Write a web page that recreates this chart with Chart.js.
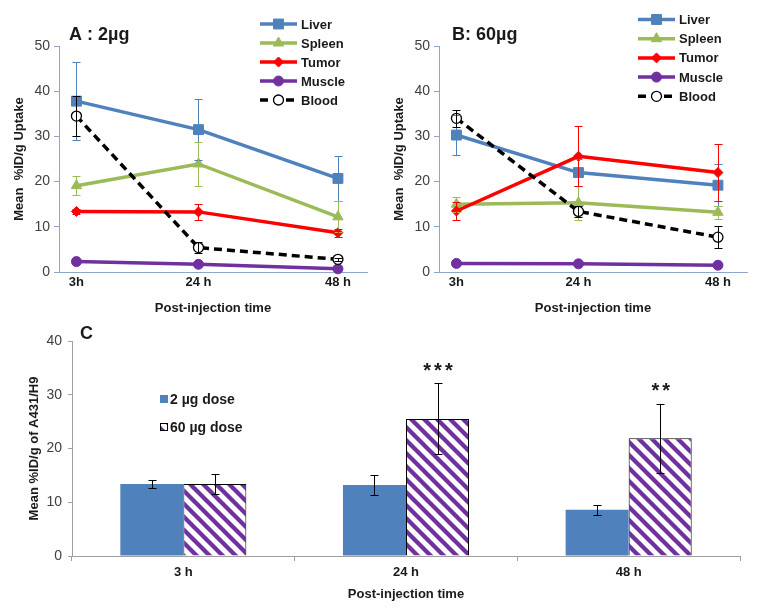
<!DOCTYPE html>
<html><head><meta charset="utf-8">
<script src="https://cdn.jsdelivr.net/npm/chart.js@4"></script>
<style>
html,body{margin:0;padding:0;background:#fff;width:764px;height:611px;overflow:hidden}
canvas{position:absolute}
#cA{left:0;top:0}
#cB{left:380px;top:0}
#cC{left:0;top:320px}
</style></head><body>
<canvas id="cA" width="380" height="320"></canvas>
<canvas id="cB" width="384" height="320"></canvas>
<canvas id="cC" width="764" height="291"></canvas>
<script>
// ---------- DATA ----------
const hours = [3, 24, 48];
const hourLabels = ['3h', '24 h', '48 h'];
const organs = ['Liver', 'Spleen', 'Tumor', 'Muscle', 'Blood'];

// Panel A : 2 µg
const liverA = [37.8, 31.5, 20.7];
const liverA_sd = [8.6, 6.8, 5.0];
const spleenA = [19.1, 23.9, 12.2];
const spleenA_sd = [2.1, 4.9, 3.4];
const tumorA = [13.4, 13.3, 8.7];
const tumorA_sd = [0.6, 1.8, 0.9];
const muscleA = [2.3, 1.7, 0.7];
const muscleA_sd = [0.3, 0.3, 0.2];
const bloodA = [34.5, 5.4, 2.8];
const bloodA_sd = [4.4, 1.3, 0.4];

// Panel B : 60 µg
const liverB = [30.3, 22.0, 19.2];
const liverB_sd = [4.4, 3.0, 4.6];
const spleenB = [15.0, 15.3, 13.2];
const spleenB_sd = [1.7, 3.7, 1.5];
const tumorB = [13.5, 25.6, 22.0];
const tumorB_sd = [1.9, 6.6, 6.3];
const muscleB = [1.9, 1.8, 1.5];
const muscleB_sd = [0.2, 0.2, 0.2];
const bloodB = [34.0, 13.4, 7.7];
const bloodB_sd = [1.9, 1.3, 2.5];

// Panel C : tumour uptake
const barCategories = ['3 h', '24 h', '48 h'];
const doseLabels = ['2 µg dose', '60 µg dose'];
const dose2 = [13.4, 13.2, 8.6];
const dose2_sd = [0.75, 1.8, 0.95];
const dose60 = [13.4, 25.5, 21.9];
const dose60_sd = [1.9, 6.6, 6.4];
const significance = ['', '***', '**'];

// ---------- STYLE ----------
const FONT = "'Liberation Sans', Arial, Helvetica, sans-serif";
Chart.defaults.font.family = FONT;
const TXT = '#1a1a1a';
const TICK = '#404040';
const axisBlue = '#8EA7C9';
const axisGray = '#A0A0A0';

const organStyles = [
  {color:'#4F81BD', fill:'#4F81BD', pointStyle:'rect', radius:7, dash:[], pbw:1},
  {color:'#9BBB59', fill:'#9BBB59', pointStyle:'triangle', radius:6, dash:[], pbw:1},
  {color:'#FF0000', fill:'#FF0000', pointStyle:'rectRot', radius:5, dash:[], pbw:1},
  {color:'#7030A0', fill:'#7030A0', pointStyle:'circle', radius:5, dash:[], pbw:1},
  {color:'#000000', fill:'#FFFFFF', pointStyle:'circle', radius:5, dash:[8,5], pbw:1.3}
];

function drawMarker(ctx, st, x, y) {
  ctx.save();
  ctx.setLineDash([]);
  ctx.fillStyle = st.fill;
  ctx.strokeStyle = st.color;
  ctx.lineWidth = st.pbw;
  if (Chart.helpers && Chart.helpers.drawPoint) {
    Chart.helpers.drawPoint(ctx, {pointStyle: st.pointStyle, radius: st.radius, borderWidth: st.pbw, rotation: 0}, x, y);
  } else {
    ctx.beginPath(); ctx.arc(x, y, st.radius, 0, Math.PI*2); ctx.fill(); ctx.stroke();
  }
  ctx.restore();
}

// ---------- PLUGINS ----------
const errorBars = {
  id: 'errorBars',
  afterDatasetsDraw(chart) {
    const ctx = chart.ctx;
    const ys = chart.scales.y;
    chart.data.datasets.forEach((ds, i) => {
      if (!ds.errors) return;
      const meta = chart.getDatasetMeta(i);
      ctx.save();
      ctx.setLineDash([]);
      ctx.strokeStyle = ds.errorColor || '#000';
      ctx.lineWidth = 1;
      meta.data.forEach((el, j) => {
        const raw = ds.data[j];
        const v = (typeof raw === 'object') ? raw.y : raw;
        const e = ds.errors[j];
        const x = Math.round(el.x) + 0.5;
        const yt = Math.round(ys.getPixelForValue(v + e)) + 0.5;
        const yb = Math.round(ys.getPixelForValue(v - e)) + 0.5;
        const cw = ds.capHalf || 4;
        ctx.beginPath();
        ctx.moveTo(x, yt); ctx.lineTo(x, yb);
        ctx.moveTo(x - cw, yt); ctx.lineTo(x + cw, yt);
        ctx.moveTo(x - cw, yb); ctx.lineTo(x + cw, yb);
        ctx.stroke();
      });
      ctx.restore();
    });
  }
};

const lineLegend = {
  id: 'lineLegend',
  afterDraw(chart, args, opts) {
    if (!opts || !opts.display) return;
    const ctx = chart.ctx;
    chart.data.datasets.forEach((ds, i) => {
      const st = organStyles[i];
      const y = opts.y + i * opts.dy;
      ctx.save();
      ctx.strokeStyle = st.color;
      ctx.lineWidth = 3.5;
      ctx.setLineDash(st.dash);
      ctx.beginPath();
      ctx.moveTo(opts.x, y); ctx.lineTo(opts.x + opts.len, y);
      ctx.stroke();
      ctx.restore();
      drawMarker(ctx, st, opts.x + opts.len / 2, y);
      ctx.save();
      ctx.fillStyle = TXT;
      ctx.font = 'bold 13px ' + FONT;
      ctx.textBaseline = 'middle';
      ctx.fillText(ds.label, opts.x + opts.len + 4, y + 1);
      ctx.restore();
    });
  }
};

const panelTitle = {
  id: 'panelTitle',
  afterDraw(chart, args, opts) {
    if (!opts || !opts.text) return;
    const ctx = chart.ctx;
    ctx.save();
    ctx.fillStyle = TXT;
    ctx.font = 'bold ' + opts.size + 'px ' + FONT;
    ctx.textBaseline = 'middle';
    ctx.fillText(opts.text, opts.x, opts.y);
    ctx.restore();
  }
};

// ---------- LINE PANELS ----------
function lineChart(id, titleText, series, sds, legendPos, titlePos, rightPad) {
  const datasets = organs.map((name, i) => {
    const st = organStyles[i];
    return {
      label: name,
      data: hours.map((h, j) => ({x: h, y: series[i][j]})),
      errors: sds[i],
      errorColor: st.color,
      capHalf: 4,
      borderColor: st.color,
      backgroundColor: st.fill,
      borderWidth: 3.5,
      borderDash: st.dash,
      pointStyle: st.pointStyle,
      pointRadius: st.radius,
      pointHoverRadius: st.radius,
      pointBackgroundColor: st.fill,
      pointBorderColor: st.color,
      pointBorderWidth: st.pbw,
      tension: 0,
      clip: false,
      order: 4 - i
    };
  });
  return new Chart(document.getElementById(id), {
    type: 'line',
    data: {datasets},
    plugins: [errorBars, lineLegend, panelTitle],
    options: {
      responsive: false, animation: false, devicePixelRatio: 1,
      layout: {padding: {left: 0, right: rightPad, top: 46, bottom: 0}},
      plugins: {
        legend: {display: false}, tooltip: {enabled: false},
        lineLegend: Object.assign({display: true}, legendPos),
        panelTitle: Object.assign({text: titleText, size: 18}, titlePos)
      },
      scales: {
        x: {
          type: 'linear', min: 0, max: 53,
          afterBuildTicks: ax => { ax.ticks = hours.map(v => ({value: v})); },
          ticks: {callback: v => hourLabels[hours.indexOf(v)], font: {weight: 'bold', size: 13}, color: TXT, padding: 3, maxRotation: 0, autoSkip: false},
          grid: {display: false, drawTicks: false},
          border: {color: axisBlue, width: 1},
          title: {display: true, text: 'Post-injection time', font: {weight: 'bold', size: 13}, color: TXT, padding: {top: 0, bottom: 4}},
          afterFit: s => { s.height = 48; }
        },
        y: {
          min: 0, max: 50,
          ticks: {stepSize: 10, font: {size: 14}, color: TICK, padding: 4},
          grid: {drawOnChartArea: false, drawTicks: true, tickLength: 5, color: axisBlue},
          border: {color: axisBlue, width: 1},
          title: {display: true, text: 'Mean  %ID/g Uptake', font: {weight: 'bold', size: 13}, color: TXT, padding: {top: 12, bottom: 0}},
          afterFit: s => { s.width = 59; }
        }
      }
    }
  });
}

lineChart('cA', 'A : 2µg',
  [liverA, spleenA, tumorA, muscleA, bloodA],
  [liverA_sd, spleenA_sd, tumorA_sd, muscleA_sd, bloodA_sd],
  {x: 260, y: 24, dy: 19, len: 37}, {x: 69, y: 35}, 13);

lineChart('cB', 'B: 60µg',
  [liverB, spleenB, tumorB, muscleB, bloodB],
  [liverB_sd, spleenB_sd, tumorB_sd, muscleB_sd, bloodB_sd],
  {x: 258, y: 19.5, dy: 19.2, len: 37}, {x: 72, y: 35}, 17);

// ---------- BAR PANEL ----------
const ctxC = document.getElementById('cC').getContext('2d');
function hatchPattern(ctx) {
  const s = 13;
  const c = document.createElement('canvas');
  c.width = s; c.height = s;
  const p = c.getContext('2d');
  p.fillStyle = '#fff'; p.fillRect(0, 0, s, s);
  p.strokeStyle = '#7030A0'; p.lineWidth = 4.3;
  for (let k = -1; k <= 1; k++) {
    p.beginPath(); p.moveTo(-3, -3 + k * s); p.lineTo(s + 3, s + 3 + k * s); p.stroke();
  }
  return ctx.createPattern(c, 'repeat');
}
const hatch = hatchPattern(ctxC);

const barExtras = {
  id: 'barExtras',
  afterDraw(chart) {
    const ctx = chart.ctx;
    const ys = chart.scales.y;
    // panel letter
    ctx.save();
    ctx.fillStyle = TXT;
    ctx.font = 'bold 18px ' + FONT;
    ctx.textBaseline = 'middle';
    ctx.fillText('C', chart.chartArea.left + 8, 14);
    ctx.restore();
    // legend
    const lx = 160, ly = [79, 107];
    chart.data.datasets.forEach((ds, i) => {
      ctx.save();
      ctx.fillStyle = i === 0 ? '#4F81BD' : hatch;
      ctx.fillRect(lx, ly[i] - 4, 8, 8);
      if (i === 1) { ctx.strokeStyle = '#000'; ctx.lineWidth = 1; ctx.strokeRect(lx + 0.5, ly[i] - 3.5, 7, 7); }
      ctx.fillStyle = TXT;
      ctx.font = 'bold 14px ' + FONT;
      ctx.textBaseline = 'middle';
      ctx.fillText(ds.label, lx + 10, ly[i] + 1);
      ctx.restore();
    });
    // significance stars above 60 µg bars
    const meta = chart.getDatasetMeta(1);
    meta.data.forEach((el, j) => {
      if (!significance[j]) return;
      const top = ys.getPixelForValue(dose60[j] + dose60_sd[j]);
      ctx.save();
      ctx.fillStyle = TXT;
      ctx.font = 'bold 20px ' + FONT;
      ctx.letterSpacing = '3px';
      ctx.textAlign = 'center';
      ctx.textBaseline = 'middle';
      ctx.fillText(significance[j], el.x + 2, top - 12);
      ctx.restore();
    });
  }
};

new Chart(ctxC, {
  type: 'bar',
  data: {
    labels: barCategories,
    datasets: [
      {label: doseLabels[0], data: dose2, errors: dose2_sd, errorColor: '#000', capHalf: 4,
       backgroundColor: '#4F81BD', borderWidth: 0, categoryPercentage: 0.566, barPercentage: 1},
      {label: doseLabels[1], data: dose60, errors: dose60_sd, errorColor: '#000', capHalf: 4,
       backgroundColor: hatch, borderColor: '#000', borderWidth: 1, categoryPercentage: 0.566, barPercentage: 1}
    ]
  },
  plugins: [errorBars, barExtras],
  options: {
    responsive: false, animation: false, devicePixelRatio: 1,
    layout: {padding: {left: 0, right: 24, top: 21, bottom: 0}},
    plugins: {legend: {display: false}, tooltip: {enabled: false}},
    scales: {
      x: {
        ticks: {font: {weight: 'bold', size: 13}, color: TXT, padding: 4},
        grid: {offset: true, drawOnChartArea: false, drawTicks: true, tickLength: 5, color: axisGray},
        border: {color: axisGray, width: 1},
        title: {display: true, text: 'Post-injection time', font: {weight: 'bold', size: 13}, color: TXT, padding: {top: 0, bottom: 9}},
        afterFit: s => { s.height = 55; }
      },
      y: {
        min: 0, max: 40,
        ticks: {stepSize: 10, font: {size: 14}, color: TICK, padding: 6},
        grid: {drawOnChartArea: false, drawTicks: true, tickLength: 4, color: axisGray},
        border: {color: axisGray, width: 1},
        title: {display: true, text: 'Mean %ID/g of A431/H9', font: {weight: 'bold', size: 13}, color: TXT, padding: {top: 27, bottom: 0}},
        afterFit: s => { s.width = 72; }
      }
    }
  }
});
</script>
</body></html>
